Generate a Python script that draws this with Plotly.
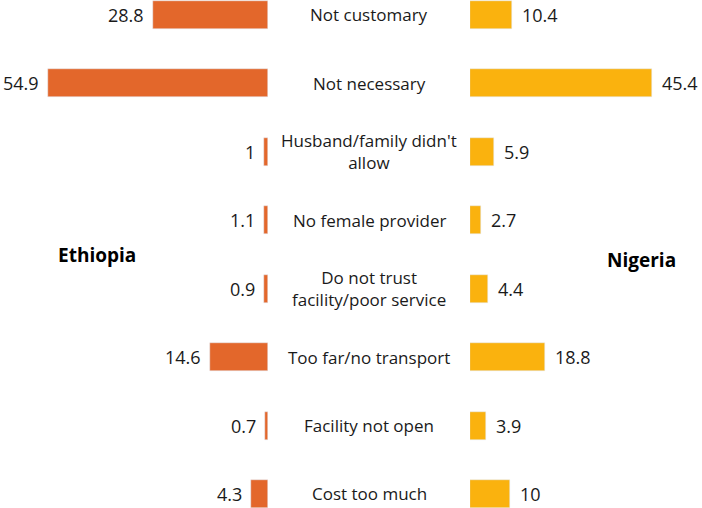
import plotly.graph_objects as go

categories = [
    "Not customary",
    "Not necessary",
    "Husband/family didn't<br>allow",
    "No female provider",
    "Do not trust<br>facility/poor service",
    "Too far/no transport",
    "Facility not open",
    "Cost too much",
]
ethiopia = [28.8, 54.9, 1, 1.1, 0.9, 14.6, 0.7, 4.3]
nigeria = [10.4, 45.4, 5.9, 2.7, 4.4, 18.8, 3.9, 10]
country_labels = ["Ethiopia", "Nigeria"]

ORANGE = "#E3672B"
YELLOW = "#FAB20E"
FONT = "Open Sans"
TXT = "#1a1a1a"

W, H = 702, 508
idx = list(range(len(categories)))

fig = go.Figure()
fig.add_trace(go.Bar(x=ethiopia, y=idx, orientation="h", marker_color=ORANGE,
                     width=0.41, xaxis="x", yaxis="y", showlegend=False, hoverinfo="skip"))
fig.add_trace(go.Bar(x=nigeria, y=idx, orientation="h", marker_color=YELLOW,
                     width=0.41, xaxis="x2", yaxis="y", showlegend=False, hoverinfo="skip"))

ann = []
for i, (c, e, n) in enumerate(zip(categories, ethiopia, nigeria)):
    ann.append(dict(x=369 / W, xref="paper", y=i, yref="y", text=c, showarrow=False,
                    font=dict(family=FONT, size=17, color=TXT), xanchor="center", yanchor="middle"))
    ann.append(dict(x=e, xref="x", y=i, yref="y", text=f"{e:g}", showarrow=False, xshift=-7,
                    font=dict(family=FONT, size=18, color=TXT), xanchor="right", yanchor="middle"))
    ann.append(dict(x=n, xref="x2", y=i, yref="y", text=f"{n:g}", showarrow=False, xshift=8,
                    font=dict(family=FONT, size=18, color=TXT), xanchor="left", yanchor="middle"))

ann.append(dict(x=97 / W, xref="paper", y=1 - 255 / H, yref="paper", text=f"<b>{country_labels[0]}</b>",
                showarrow=False, font=dict(family=FONT, size=19, color="#000"),
                xanchor="center", yanchor="middle"))
ann.append(dict(x=641 / W, xref="paper", y=1 - 260 / H, yref="paper", text=f"<b>{country_labels[1]}</b>",
                showarrow=False, font=dict(family=FONT, size=19, color="#000"),
                xanchor="center", yanchor="middle"))

fig.update_layout(
    width=W, height=H,
    margin=dict(l=0, r=0, t=0, b=0),
    paper_bgcolor="white", plot_bgcolor="white",
    xaxis=dict(domain=[0, 268 / W], range=[67, 0], visible=False, fixedrange=True),
    xaxis2=dict(domain=[470 / W, 1], range=[0, 58], visible=False, fixedrange=True),
    yaxis=dict(range=[7.205, -0.219], visible=False, fixedrange=True),
    annotations=ann,
    bargap=0,
)

fig.write_html("out.html", config={"displayModeBar": False},
               post_script="document.body.style.margin='0px';document.body.style.overflow='hidden';")
